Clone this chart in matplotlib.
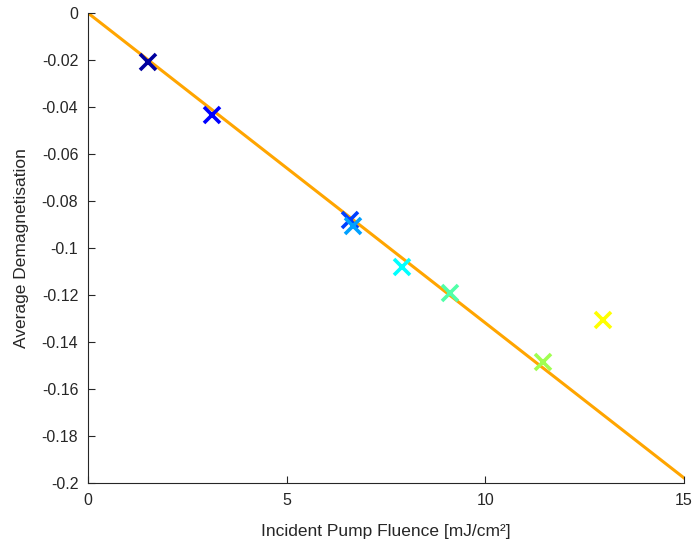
import matplotlib.pyplot as plt
import numpy as np

# measured points
fluence = [1.51, 3.12, 6.59, 6.67, 7.90, 9.11, 11.45, 12.96]
demag = [-0.0209, -0.0434, -0.0881, -0.0906, -0.108, -0.119, -0.1485, -0.1306]
colours = ['#00009f', '#0000ff', '#0040ff', '#00a0ff', '#00ffff',
           '#50ffa8', '#a0ff50', '#ffff00']

# linear fit line through origin
fit_x = [0, 15]
fit_slope = -0.01319

plt.rcParams['font.family'] = ['Liberation Sans', 'DejaVu Sans']
fig = plt.figure(figsize=(6.96, 5.48), dpi=100)
ax = fig.add_axes([0.1264, 0.1186, 0.8564, 0.8577])

ax.plot(fit_x, [fit_slope * v for v in fit_x], color='#ffa500', lw=2.2, zorder=1)
for xv, yv, c in zip(fluence, demag, colours):
    ax.plot(xv, yv, 'x', color=c, ms=11, mew=2.6, zorder=2)

ax.set_xlim(0, 15)
ax.set_ylim(-0.2, 0)
ax.set_xticks([0, 5, 10, 15])
ax.set_yticks(np.round(np.arange(-0.2, 0.001, 0.02), 2))
ax.set_yticklabels(['-0.2', '-0.18', '-0.16', '-0.14', '-0.12', '-0.1',
                    '-0.08', '-0.06', '-0.04', '-0.02', '0'])
for s in ['top', 'right']:
    ax.spines[s].set_visible(False)
for s in ['left', 'bottom']:
    ax.spines[s].set_color('#262626')
    ax.spines[s].set_linewidth(0.8)
ax.tick_params(direction='in', length=5, colors='#262626', labelsize=11.5)
ax.tick_params(axis='x', pad=7)
ax.tick_params(axis='y', pad=7)
ax.set_xlabel('Incident Pump Fluence [mJ/cm²]', fontsize=12.5, color='#262626',
              labelpad=12)
ax.set_ylabel('Average Demagnetisation', fontsize=12.5, color='#262626',
              labelpad=9)

fig.savefig('out.png', dpi=100)
